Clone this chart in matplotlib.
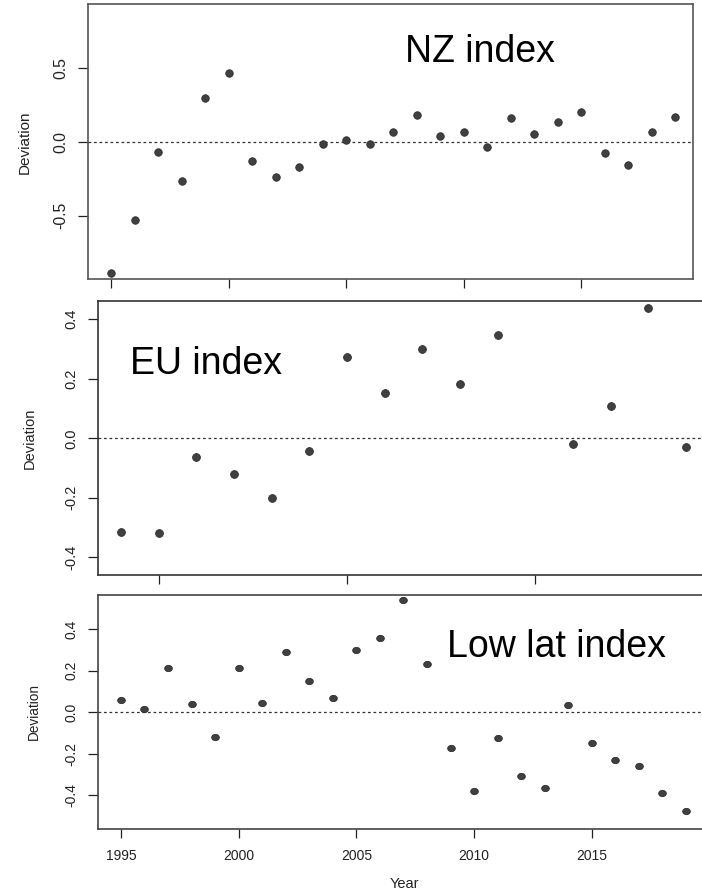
import numpy as np
import matplotlib
matplotlib.use('Agg')
import matplotlib.pyplot as plt
from matplotlib.path import Path

plt.rcParams['font.family'] = ['Liberation Sans', 'DejaVu Sans']

# NZ index, yearly 1995-2019
nz_years = list(range(1995, 2020))
nz_dev = [-0.888, -0.531, -0.068, -0.264, 0.300, 0.470, -0.129, -0.239, -0.169, -0.014,
          0.011, -0.011, 0.068, 0.183, 0.043, 0.066, -0.032, 0.165, 0.056, 0.135,
          0.201, -0.075, -0.158, 0.068, 0.172]

# EU index (no value for 2010)
eu_years = [1999, 2000, 2001, 2002, 2003, 2004, 2005, 2006, 2007, 2008, 2009,
            2011, 2012, 2013, 2014]
eu_dev = [-0.313, -0.317, -0.062, -0.120, -0.200, -0.044, 0.272, 0.152, 0.300, 0.182,
          0.347, -0.018, 0.107, 0.438, -0.028]

# Low latitude index, yearly 1995-2019
low_years = list(range(1995, 2020))
low_dev = [0.058, 0.014, 0.212, 0.039, -0.118, 0.212, 0.043, 0.292, 0.151, 0.067,
           0.299, 0.358, 0.540, 0.231, -0.173, -0.378, -0.125, -0.305, -0.365, 0.034,
           -0.146, -0.228, -0.260, -0.389, -0.476]

W, H = 702, 892
fig = plt.figure(figsize=(W / 100, H / 100), dpi=100)


def rect(left, right, top, bottom):
    return [left / W, 1 - bottom / H, (right - left) / W, (bottom - top) / H]


def panel(box, x, y, xlim, ylim, yticks, label, label_xy, fs, ms, marker='o',
          frame='#444444', show_x=False):
    ax = fig.add_axes(rect(*box))
    ax.axhline(0, color='#333333', lw=0.9, ls=(0, (2.2, 2.2)), zorder=1)
    ax.plot(x, y, ls='none', marker=marker, ms=ms, mfc='#404040', mec='#2e2e2e',
            mew=0.6, zorder=3)
    ax.set_xlim(*xlim)
    ax.set_ylim(*ylim)
    ax.set_xticks([t for t in range(1995, 2020, 5) if xlim[0] < t < xlim[1]])
    ax.set_yticks(yticks)
    ax.set_yticklabels(['%.1f' % v for v in yticks], rotation=90, va='center')
    ax.tick_params(axis='y', length=7.2, width=0.9, pad=7, labelsize=fs, colors='#222222')
    ax.tick_params(axis='x', length=6.5, width=0.9, pad=7.5, labelsize=fs,
                   colors='#222222', labelbottom=show_x)
    for s in ax.spines.values():
        s.set_color(frame)
        s.set_linewidth(1.2)
    ax.text(label_xy[0], label_xy[1], label, fontsize=27, ha='left', va='baseline')
    return ax


# slightly flattened dot for the bottom panel
t = np.linspace(0, 2 * np.pi, 60)
flat_dot = Path(np.column_stack([np.cos(t), 0.82 * np.sin(t)]), closed=True)

ax1 = panel((88, 693, 4, 279.3), nz_years, nz_dev, (1994.02, 2019.76), (-0.930, 0.935),
            [-0.5, 0.0, 0.5], 'NZ index', (2007.51, 0.542), 11.3, 5.4, frame='#555555')
ax2 = panel((98.3, 708.6, 301, 575.3), eu_years, eu_dev, (1998.4, 2014.6), (-0.46, 0.461),
            [-0.4, -0.2, 0.0, 0.2, 0.4], 'EU index', (1999.24, 0.215), 10.5, 5.6,
            frame='#333333')
ax3 = panel((98.3, 708.6, 595, 829.3), low_years, low_dev, (1994.04, 2019.96),
            (-0.564, 0.565), [-0.4, -0.2, 0.0, 0.2, 0.4], 'Low lat index', (2008.85, 0.265),
            10.0, 5.5, marker=flat_dot, frame='#444444', show_x=True)

# axis titles
fig.text(25 / W, 1 - 142 / H, 'Deviation', rotation=90, ha='center', va='center',
         fontsize=11, color='#222222')
fig.text(30 / W, 1 - 438 / H, 'Deviation', rotation=90, ha='center', va='center',
         fontsize=10.5, color='#222222')
fig.text(34 / W, 1 - 712 / H, 'Deviation', rotation=90, ha='center', va='center',
         fontsize=9.8, color='#222222')
fig.text(404 / W, 1 - 884 / H, 'Year', ha='center', va='center', fontsize=10.5,
         color='#222222')

fig.savefig('out.png', dpi=100)
